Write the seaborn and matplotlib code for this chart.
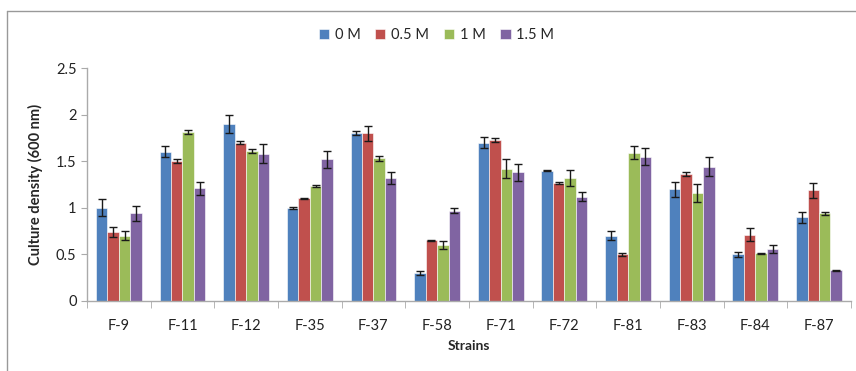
import matplotlib
matplotlib.use("Agg")
import matplotlib.pyplot as plt
import seaborn as sns
import pandas as pd
import numpy as np
from matplotlib.lines import Line2D

strains = ["F-9", "F-11", "F-12", "F-35", "F-37", "F-58", "F-71", "F-72", "F-81", "F-83", "F-84", "F-87"]
series = ["0 M", "0.5 M", "1 M", "1.5 M"]
v_0M = [1.00, 1.60, 1.90, 1.00, 1.80, 0.30, 1.70, 1.40, 0.70, 1.20, 0.50, 0.90]
v_05M = [0.74, 1.50, 1.70, 1.10, 1.80, 0.65, 1.73, 1.27, 0.50, 1.36, 0.71, 1.19]
v_1M = [0.70, 1.81, 1.61, 1.23, 1.53, 0.60, 1.42, 1.32, 1.59, 1.16, 0.51, 0.94]
v_15M = [0.94, 1.21, 1.58, 1.52, 1.32, 0.97, 1.38, 1.12, 1.55, 1.44, 0.56, 0.33]
e_0M = [0.09, 0.06, 0.10, 0.01, 0.02, 0.02, 0.06, 0.01, 0.05, 0.08, 0.03, 0.06]
e_05M = [0.05, 0.02, 0.02, 0.01, 0.08, 0.005, 0.02, 0.01, 0.02, 0.02, 0.07, 0.08]
e_1M = [0.05, 0.02, 0.02, 0.01, 0.03, 0.04, 0.10, 0.09, 0.07, 0.10, 0.005, 0.02]
e_15M = [0.08, 0.07, 0.10, 0.09, 0.06, 0.03, 0.09, 0.05, 0.09, 0.10, 0.04, 0.005]
colors = ["#4F81BD", "#C0504D", "#9BBB59", "#8064A2"]

vals = [v_0M, v_05M, v_1M, v_15M]
errs = [e_0M, e_05M, e_1M, e_15M]
rows = []
for s, vs in zip(series, vals):
    for st, v in zip(strains, vs):
        rows.append({"Strain": st, "Conc": s, "Value": v})
df = pd.DataFrame(rows)

sns.set_style("white")
plt.rcParams["font.family"] = ["Lato", "DejaVu Sans"]

fig = plt.figure(figsize=(8.56, 3.71), dpi=100)
ax = fig.add_axes([0.1016, 0.1887, 0.8924, 0.628])
sns.barplot(data=df, x="Strain", y="Value", hue="Conc", order=strains, hue_order=series,
            palette=colors, width=0.72, errorbar=None, ax=ax, saturation=1,
            edgecolor="white", linewidth=0.4, legend=True)

# error bars at bar centres
bar_containers = list(ax.containers)
for i, cont in enumerate(bar_containers):
    xs = [p.get_x() + p.get_width() / 2 for p in cont.patches]
    hs = [p.get_height() for p in cont.patches]
    ax.errorbar(xs, hs, yerr=errs[i], fmt="none", ecolor="#1a1a1a", elinewidth=1.0,
                capsize=3, capthick=1.0, zorder=5)

ax.set_xlim(-0.5, len(strains) - 0.5)
ax.set_ylim(0, 2.5)
ax.set_yticks([0, 0.5, 1, 1.5, 2, 2.5])
ax.set_yticklabels(["0", "0.5", "1", "1.5", "2", "2.5"])
ax.set_xticks(range(len(strains)))
ax.set_xticklabels(strains)
ax.set_xticks(np.arange(-0.5, len(strains), 1), minor=True)
ax.tick_params(axis="x", which="major", length=0, pad=13, labelsize=10.5, colors="#222222")
ax.tick_params(axis="x", which="minor", length=5, color="#aaaaaa", direction="out", bottom=True)
ax.tick_params(axis="y", length=4, color="#aaaaaa", direction="out", left=True, labelsize=10.5, labelcolor="#222222")
for sp in ["top", "right"]:
    ax.spines[sp].set_visible(False)
for sp in ["left", "bottom"]:
    ax.spines[sp].set_color("#aaaaaa")
    ax.spines[sp].set_linewidth(1.0)

ax.set_xlabel("Strains", fontsize=10, fontweight="bold", labelpad=5)
ax.set_ylabel("Culture density (600 nm)", fontsize=10.5, fontweight="bold", labelpad=9)

handles, labels = ax.get_legend_handles_labels()
ax.legend_.remove()
fig.legend(handles, labels, loc="center", bbox_to_anchor=(0.51, 0.905), ncol=4, frameon=False,
           fontsize=10.5, handlelength=0.7, handleheight=0.7, handletextpad=0.4, columnspacing=1.0)

# outer chart border (top and left visible)
fig.add_artist(Line2D([7 / 856, 1], [1 - 11 / 371, 1 - 11 / 371], color="#999999", lw=1.0, transform=fig.transFigure))
fig.add_artist(Line2D([7 / 856, 7 / 856], [0, 1 - 11 / 371], color="#999999", lw=1.0, transform=fig.transFigure))

fig.savefig("out.png", dpi=100)
